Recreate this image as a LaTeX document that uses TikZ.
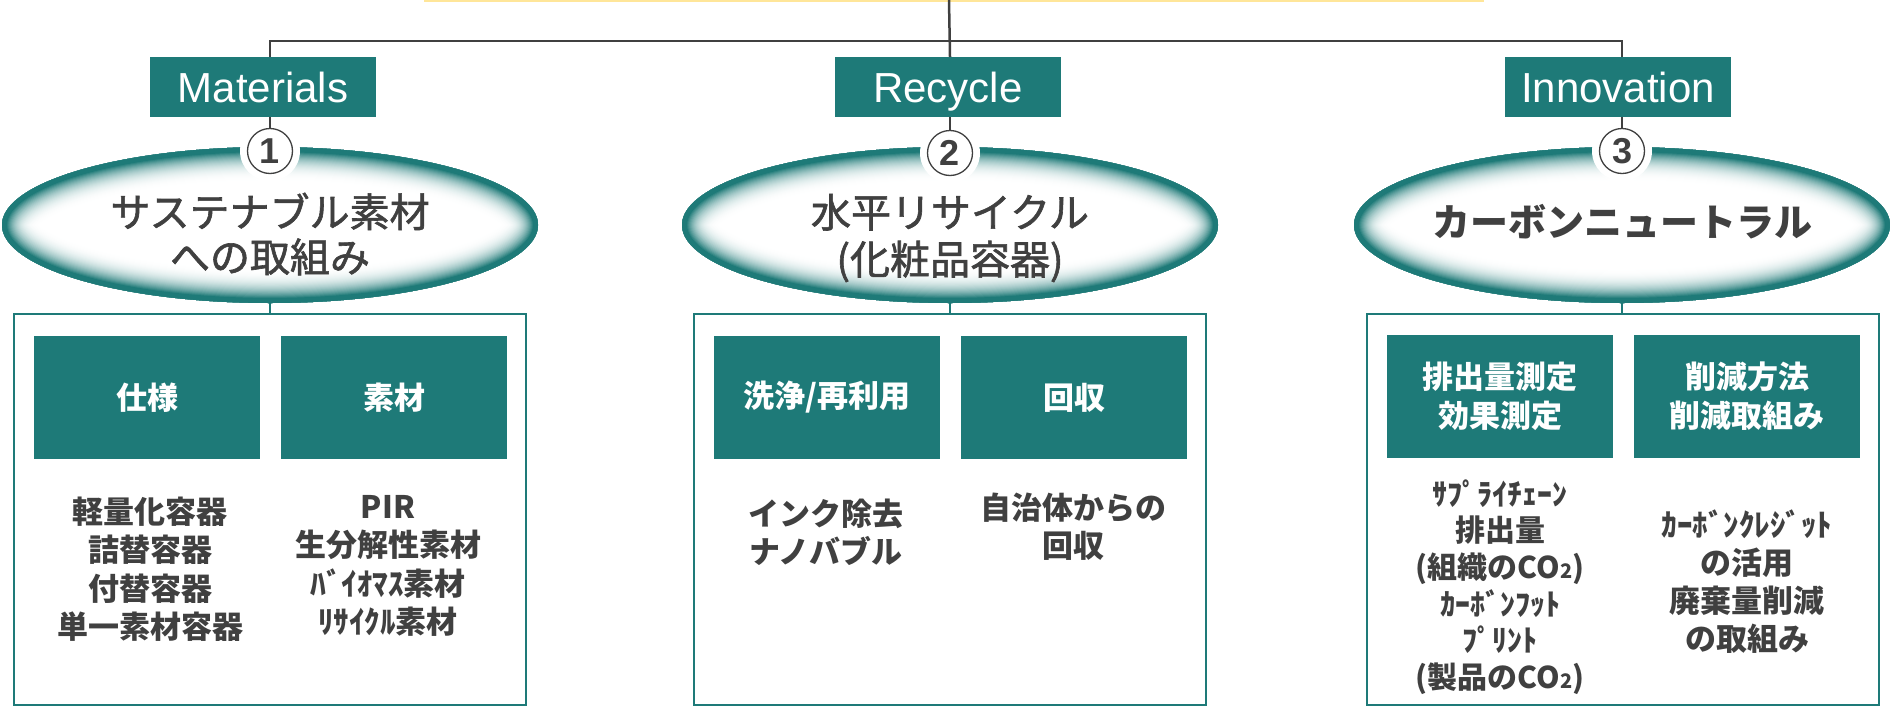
\documentclass[tikz,border=0pt]{standalone}
\usepackage{fontspec}
\setmainfont{Liberation Sans}
\newfontfamily\jp{Noto Sans CJK JP}
\newfontfamily\jpm[FakeBold=1.5]{Noto Sans CJK JP}
\usetikzlibrary{shapes.geometric}
\definecolor{teal1}{RGB}{30,122,120}
\definecolor{dgray}{RGB}{64,64,64}
\definecolor{ylw}{RGB}{255,230,153}
\tikzset{
 conn/.style={draw=dgray, line width=2.5pt},
 tconn/.style={draw=teal1, line width=2pt},
 tag/.style={fill=teal1, text=white, minimum width=226pt, minimum height=60pt, inner sep=0pt, text height=30pt, text depth=0pt, font=\fontsize{42}{42}\selectfont},
 num/.style={circle, draw=dgray, line width=1.3pt, fill=white, minimum size=45pt, inner sep=0pt, text=dgray, font=\bfseries\fontsize{36}{36}\selectfont},
 oval/.style={ellipse, minimum width=536pt, minimum height=156pt, inner sep=0pt},
 ovaltext/.style={align=center, text=dgray, font=\jpm\fontsize{40}{45}\selectfont},
 outerbox/.style={draw=teal1, line width=2pt, minimum width=512pt, minimum height=391pt, inner sep=0pt},
 head/.style={fill=teal1, text=white, minimum width=226pt, minimum height=123pt, inner sep=0pt, align=center, font=\jp\bfseries\fontsize{31}{39}\selectfont},
 body/.style={align=center, text=dgray, font=\jp\bfseries\fontsize{31}{38.5}\selectfont},
}
\newcommand\glowoval[1]{%
 \begin{scope}
 \clip (#1.center) ellipse [x radius=268pt, y radius=78pt];
 \fill[white] (#1.center) ellipse [x radius=268pt, y radius=78pt];
 \foreach \i in {0,...,30}{%
  \pgfmathsetmacro\w{2*(36-1.03*\i)}%
  \pgfmathsetmacro\p{100*(\i/30)^2.6}%
  \draw[line width=\w pt, color=teal1!\p] (#1.center) ellipse [x radius=268pt, y radius=78pt];
 }
 \end{scope}}
\newcommand\cotwo{CO{\fontsize{20}{20}\selectfont 2}}
\begin{document}
\begin{tikzpicture}[x=1pt,y=-1pt]
\useasboundingbox (0,0) rectangle (1891,707);
\fill[ylw] (424,0) rectangle (1484,2);
\coordinate (top) at (949,0);
\coordinate (hub) at (949,41);
% tags
\node[tag] (mat) at (263,87) {Materials};
\node[tag] (rec) at (948,87) {Recycle};
\node[tag] (inn) at (1618,87) {Innovation};
% ovals
\node[oval] (e1) at (270,225) {};
\node[oval] (e2) at (950,225) {};
\node[oval] (e3) at (1622,225) {};
\glowoval{e1}\glowoval{e2}\glowoval{e3}
\node[ovaltext] (t1) at (270,234) {サステナブル素材\\への取組み};
\node[ovaltext, font=\jpm\fontsize{40}{47}\selectfont] (t2) at (950,238) {水平リサイクル\\(化粧品容器)};
\node[ovaltext, font=\jp\bfseries\fontsize{38}{44}\selectfont] (t3) at (1622,222) {カーボンニュートラル};
% numbers
\fill[white] (270,151) circle (30pt);
\fill[white] (950,153) circle (30pt);
\fill[white] (1622,151) circle (30pt);
\node[num] (c1) at (270,151) {1};
\node[num] (c2) at (950,153) {2};
\node[num] (c3) at (1622,151) {3};
% connectors top
\draw[conn] (c1.north |- mat.north) |- (hub) -| (c3.north |- inn.north);
\draw[conn] (top) -- (c2.north |- rec.north);
\draw[conn] (c1.north |- mat.south) -- (c1.north);
\draw[conn] (c2.north |- rec.south) -- (c2.north);
\draw[conn] (c3.north |- inn.south) -- (c3.north);
% outer boxes
\node[outerbox] (b1) at (270,509.5) {};
\node[outerbox] (b2) at (950,509.5) {};
\node[outerbox] (b3) at (1623,509.5) {};
\draw[tconn] (e1.south) -- (b1.north -| e1.south);
\draw[tconn] (e2.south) -- (b2.north -| e2.south);
\draw[tconn] (e3.south) -- (b3.north -| e3.south);
% headers
\node[head] (h1) at (147,397.5) {仕様};
\node[head] (h2) at (394,397.5) {素材};
\node[head] (h3) at (827,397.5) {洗浄/再利用};
\node[head] (h4) at (1074,397.5) {回収};
\node[head] (h5) at (1500,396.5) {排出量測定\\効果測定};
\node[head] (h6) at (1747,396.5) {削減方法\\削減取組み};
% bodies
\node[body] (d1) at (150,569) {軽量化容器\\詰替容器\\付替容器\\単一素材容器};
\node[body] (d2) at (388,566) {PIR\\生分解性素材\\ﾊﾞｲｵﾏｽ素材\\ﾘｻｲｸﾙ素材};
\node[body] (d3) at (826,532.5) {インク除去\\ナノバブル};
\node[body] (d4) at (1073,526.5) {自治体からの\\回収};
\node[body, font=\jp\bfseries\fontsize{30}{36.7}\selectfont] (d5) at (1500,587) {ｻﾌﾟﾗｲﾁｪｰﾝ\\排出量\\(組織の\cotwo)\\ｶｰﾎﾞﾝﾌｯﾄ\\ﾌﾟﾘﾝﾄ\\(製品の\cotwo)};
\node[body, font=\jp\bfseries\fontsize{31}{38}\selectfont] (d6) at (1747,582) {ｶｰﾎﾞﾝｸﾚｼﾞｯﾄ\\の活用\\廃棄量削減\\の取組み};
\end{tikzpicture}
\end{document}
